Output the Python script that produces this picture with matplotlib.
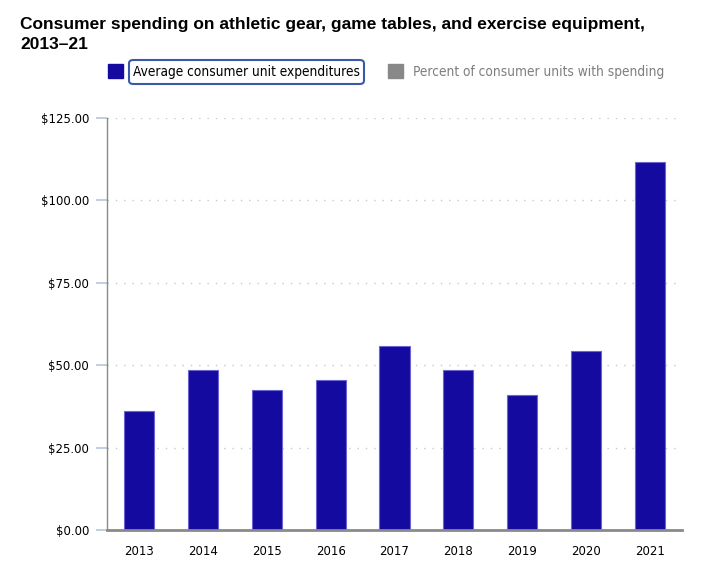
import matplotlib.pyplot as plt
from matplotlib.patches import Rectangle, FancyBboxPatch
import numpy as np

# data
years = ["2013", "2014", "2015", "2016", "2017", "2018", "2019", "2020", "2021"]
spending = [36.1, 48.5, 42.5, 45.5, 55.8, 48.5, 41.0, 54.2, 111.6]
y_ticks = [0, 25, 50, 75, 100, 125]
title = "Consumer spending on athletic gear, game tables, and exercise equipment,\n2013\u201321"
legend_labels = ["Average consumer unit expenditures", "Percent of consumer units with spending"]

bar_color = "#140a9f"
edge_color = "#6b66d4"

fig = plt.figure(figsize=(7.23, 5.67), dpi=100)
ax = fig.add_axes([107 / 723, 1 - 530 / 567, 575 / 723, 412 / 567])

x = np.arange(len(years))
ax.bar(x, spending, width=0.47, color=bar_color, edgecolor=edge_color, linewidth=0.8, zorder=3)

ax.set_xlim(-0.5, len(years) - 0.5)
ax.set_ylim(0, 125)
ax.set_xticks(x)
ax.set_xticklabels(years, fontsize=8.5, family="DejaVu Sans")
ax.set_yticks(y_ticks)
ax.set_yticklabels([f"${v:.2f}" for v in y_ticks], fontsize=8.5, family="DejaVu Sans")
ax.tick_params(axis="x", length=0, pad=11)
ax.tick_params(axis="y", length=8, width=1.2, color="#b4c6dc", pad=5)

for v in y_ticks[1:]:
    ax.axhline(v, color="#c8c8c8", linewidth=1, linestyle=(0, (1, 5)), zorder=1)

for s in ["top", "right"]:
    ax.spines[s].set_visible(False)
ax.spines["left"].set_color("#8a8a8a")
ax.spines["left"].set_linewidth(1)
ax.spines["bottom"].set_color("#8a8a8a")
ax.spines["bottom"].set_linewidth(2)
ax.spines["bottom"].set_zorder(4)

fig.text(20 / 723, 1 - 17 / 567, title, fontsize=12.55, fontweight="bold",
         family="Liberation Sans", va="top", ha="left", linespacing=1.4)

# legend drawn by hand
leg_font = dict(family="DejaVu Sans", fontstretch="condensed", fontsize=9.8)
fig.patches.append(Rectangle((108 / 723, 1 - 78 / 567), 15 / 723, 14 / 567,
                             transform=fig.transFigure, color=bar_color))
fig.patches.append(FancyBboxPatch((129 / 723, 1 - 84 / 567), 235 / 723, 24 / 567,
                                  boxstyle="round,pad=0,rounding_size=0.006",
                                  transform=fig.transFigure, facecolor="white",
                                  edgecolor="#3a5aa8", linewidth=1.5))
fig.text(133 / 723, 1 - 72 / 567, legend_labels[0], color="black", va="center", ha="left",
         **leg_font)
fig.patches.append(Rectangle((388 / 723, 1 - 78 / 567), 15 / 723, 14 / 567,
                             transform=fig.transFigure, color="#888888"))
fig.text(413 / 723, 1 - 72 / 567, legend_labels[1], color="#7e7e7e", va="center", ha="left",
         **leg_font)

fig.savefig("out.png", dpi=100)
